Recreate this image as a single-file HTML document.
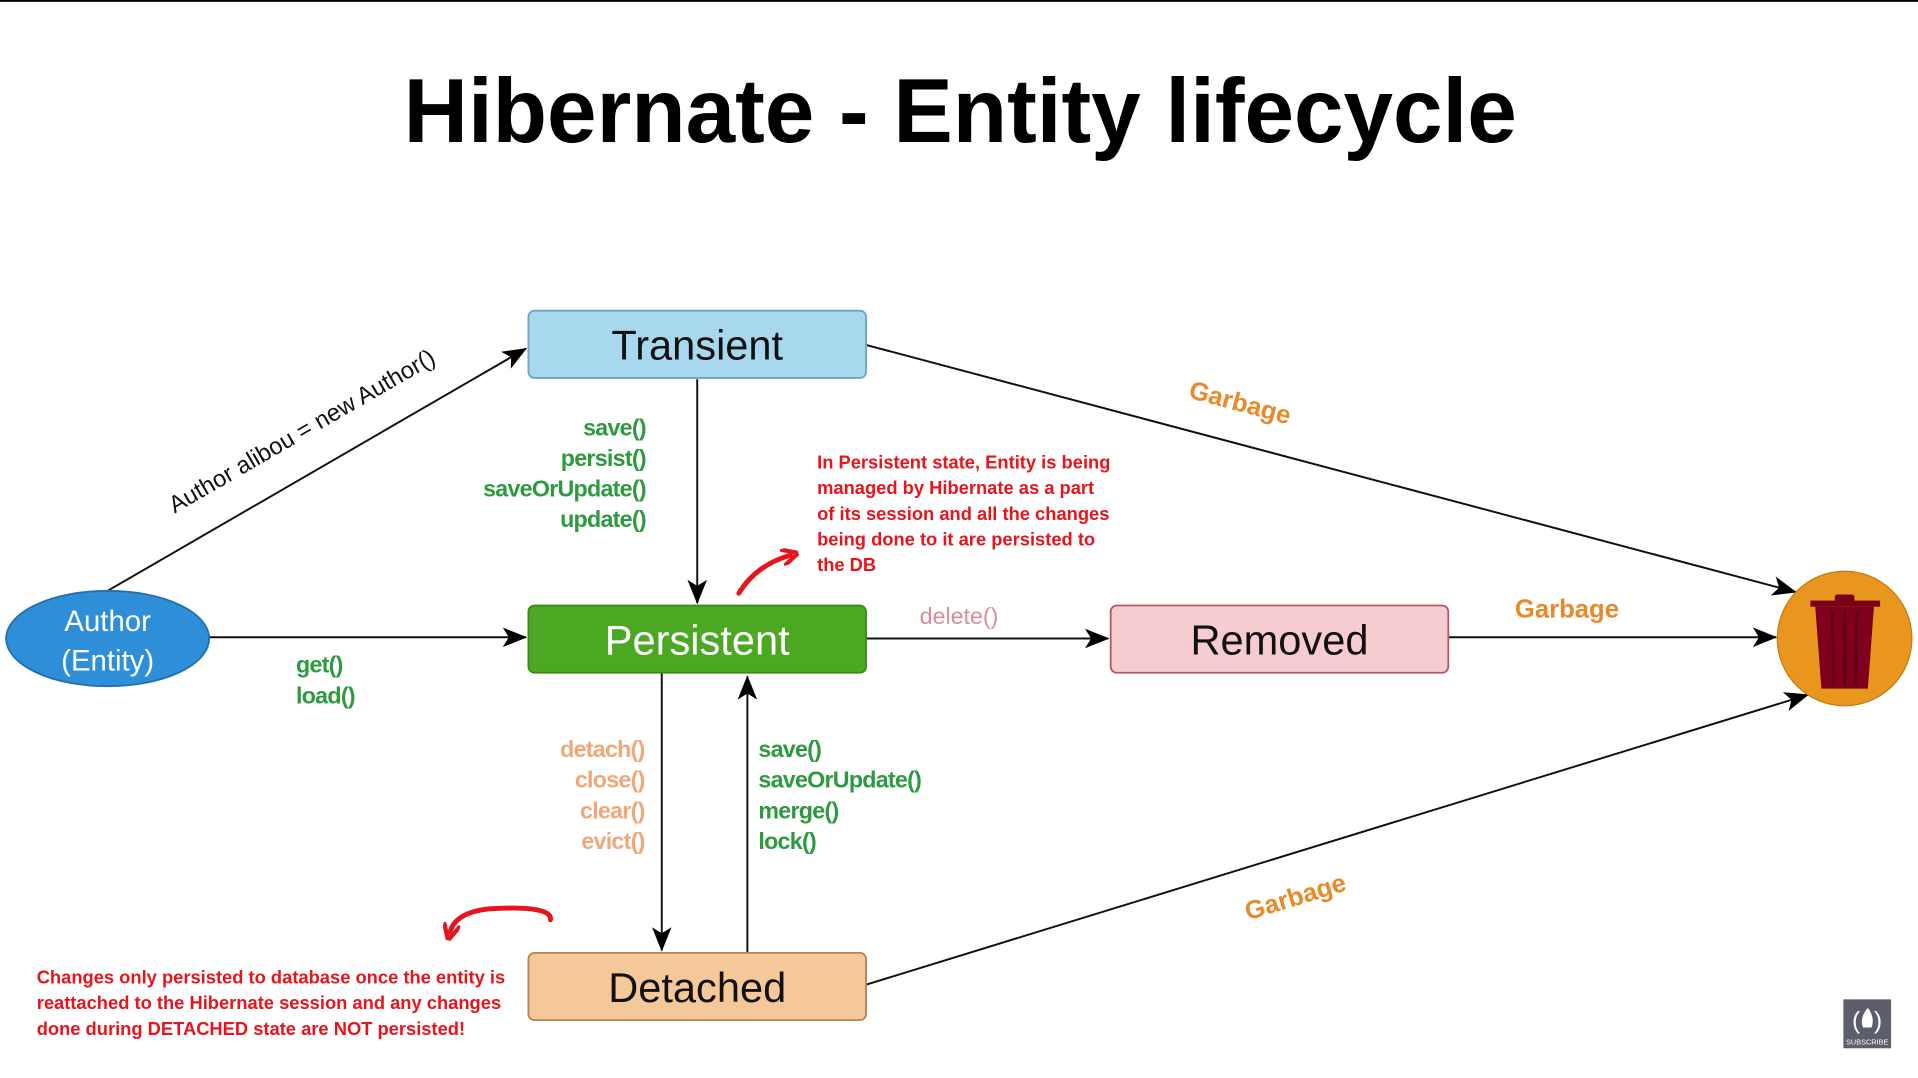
<!DOCTYPE html>
<html><head><meta charset="utf-8"><style>
html,body{margin:0;padding:0;background:#fff;width:1918px;height:1078px;overflow:hidden}
svg{display:block}
text{font-family:"Liberation Sans",sans-serif}
</style></head><body>
<svg width="1918" height="1078" viewBox="0 0 1568 881.3" preserveAspectRatio="none">
<defs>
<marker id="ah" viewBox="0 0 20 16" refX="19" refY="8" markerWidth="20" markerHeight="16" markerUnits="userSpaceOnUse" orient="auto"><path d="M0,0 L20,8 L0,16 L5,8 Z" fill="#000"/></marker>
<marker id="rh" viewBox="0 0 10 10" refX="5" refY="5" markerWidth="14" markerHeight="14" markerUnits="userSpaceOnUse" orient="auto"><path d="M0,0 L10,5 L0,10" fill="none" stroke="#e8141c" stroke-width="2.5" stroke-linecap="round"/></marker>
</defs>
<rect x="0" y="0" width="1568" height="1.5" fill="#000"/>
<text x="785" y="116" text-anchor="middle" font-size="74" font-weight="bold" fill="#000" textLength="910" lengthAdjust="spacingAndGlyphs">Hibernate - Entity lifecycle</text>

<g stroke="#111" stroke-width="1.6" fill="none">
<line x1="88" y1="483" x2="430" y2="285" marker-end="url(#ah)"/>
<line x1="570" y1="310" x2="570" y2="493" marker-end="url(#ah)"/>
<line x1="170" y1="521" x2="430" y2="521" marker-end="url(#ah)"/>
<line x1="708" y1="522" x2="906" y2="522" marker-end="url(#ah)"/>
<line x1="1184" y1="521" x2="1452" y2="521" marker-end="url(#ah)"/>
<line x1="708" y1="282" x2="1468" y2="484" marker-end="url(#ah)"/>
<line x1="708" y1="805" x2="1478" y2="568" marker-end="url(#ah)"/>
<line x1="541" y1="550" x2="541" y2="777" marker-end="url(#ah)"/>
<line x1="611" y1="779" x2="611" y2="553" marker-end="url(#ah)"/>
</g>

<rect x="432" y="254" width="276" height="55" rx="5" fill="#a8d8ee" stroke="#6aa6c8" stroke-width="1.5"/>
<text x="570" y="294" text-anchor="middle" font-size="34" fill="#111">Transient</text>
<rect x="432" y="495" width="276" height="55" rx="5" fill="#4ca722" stroke="#3a8a1a" stroke-width="1.5"/>
<text x="570" y="535" text-anchor="middle" font-size="34" fill="#fff">Persistent</text>
<rect x="908" y="495" width="276" height="55" rx="5" fill="#f6ccd0" stroke="#b05a66" stroke-width="1.5"/>
<text x="1046" y="535" text-anchor="middle" font-size="34" fill="#111">Removed</text>
<rect x="432" y="779" width="276" height="55" rx="5" fill="#f5c89a" stroke="#b38550" stroke-width="1.5"/>
<text x="570" y="819" text-anchor="middle" font-size="34" fill="#111">Detached</text>

<ellipse cx="88" cy="522" rx="83" ry="39" fill="#2f8ed8" stroke="#2070b0" stroke-width="1.5"/>
<text x="88" y="516" text-anchor="middle" font-size="24" fill="#fff">Author</text>
<text x="88" y="548" text-anchor="middle" font-size="24" fill="#fff">(Entity)</text>

<g>
<circle cx="1508" cy="522" r="55" fill="#e8961e" stroke="#c07a10" stroke-width="1"/>
<rect x="1480" y="491" width="57" height="5" fill="#7a0018"/>
<rect x="1500" y="486" width="16" height="6" rx="2" fill="#7a0018"/>
<path d="M1484,496 L1532,496 L1527,563 L1489,563 Z" fill="#7e001c"/>
<g stroke="#5a0010" stroke-width="2"><line x1="1498" y1="500" x2="1499" y2="560"/><line x1="1508" y1="500" x2="1508" y2="560"/><line x1="1518" y1="500" x2="1517" y2="560"/></g>
</g>

<text transform="translate(250,358) rotate(-30)" text-anchor="middle" font-size="19.5" fill="#111">Author alibou = new Author()</text>

<g font-size="19" font-weight="bold" fill="#2e9a40" text-anchor="end" letter-spacing="-0.6">
<text x="528" y="356">save()</text><text x="528" y="381">persist()</text><text x="528" y="406">saveOrUpdate()</text><text x="528" y="431">update()</text>
</g>
<g font-size="19" font-weight="bold" fill="#2e9a40" letter-spacing="-0.6">
<text x="242" y="550">get()</text><text x="242" y="575">load()</text>
</g>
<g font-size="19" font-weight="bold" fill="#f0a878" text-anchor="end" letter-spacing="-0.6">
<text x="527" y="619">detach()</text><text x="527" y="644">close()</text><text x="527" y="669">clear()</text><text x="527" y="694">evict()</text>
</g>
<g font-size="19" font-weight="bold" fill="#2e9a40" letter-spacing="-0.6">
<text x="620" y="619">save()</text><text x="620" y="644">saveOrUpdate()</text><text x="620" y="669">merge()</text><text x="620" y="694">lock()</text>
</g>
<text x="784" y="510" text-anchor="middle" font-size="19" fill="#d89098">delete()</text>
<g font-size="21" font-weight="bold" fill="#e88a2a" text-anchor="middle">
<text x="1281" y="505">Garbage</text>
<text transform="translate(1012,336) rotate(15)">Garbage</text>
<text transform="translate(1061,740) rotate(-17)">Garbage</text>
</g>

<g font-size="15" font-weight="bold" fill="#e8141c">
<text x="668" y="383">In Persistent state, Entity is being</text>
<text x="668" y="404">managed by Hibernate as a part</text>
<text x="668" y="425">of its session and all the changes</text>
<text x="668" y="446">being done to it are persisted to</text>
<text x="668" y="467">the DB</text>
</g>
<g font-size="15" font-weight="bold" fill="#e8141c">
<text x="30" y="804">Changes only persisted to database once the entity is</text>
<text x="30" y="825">reattached to the Hibernate session and any changes</text>
<text x="30" y="846">done during DETACHED state are NOT persisted!</text>
</g>
<path d="M604,485 Q618,462 646,454" fill="none" stroke="#e8141c" stroke-width="4" stroke-linecap="round" marker-end="url(#rh)"/>
<path d="M450,752 Q452,740 400,743 Q372,746 368,762" fill="none" stroke="#e8141c" stroke-width="4" stroke-linecap="round" marker-end="url(#rh)"/>

<g>
<rect x="1507" y="817" width="39" height="40" fill="#5c5e6c"/>
<text x="1514" y="841" font-size="20" fill="#fff">(</text><text x="1532" y="841" font-size="20" fill="#fff">)</text>
<path d="M1527,824 Q1533,832 1530,840 L1523,840 Q1520,832 1527,824 Z" fill="#fff"/>
<text x="1526.5" y="854" text-anchor="middle" font-size="6" fill="#fff">SUBSCRIBE</text>
</g>
</svg>
</body></html>
